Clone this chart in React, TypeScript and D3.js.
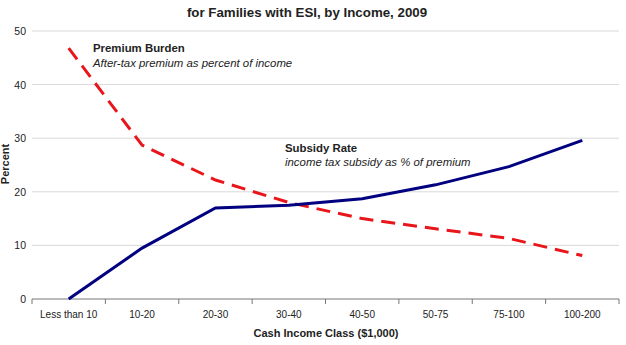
import * as d3 from "d3";

const categories = [
  "Less than 10",
  "10-20",
  "20-30",
  "30-40",
  "40-50",
  "50-75",
  "75-100",
  "100-200",
];
const subsidyRate = [0, 9.5, 17.0, 17.5, 18.7, 21.3, 24.7, 29.6];
const premiumBurden = [46.8, 28.7, 22.2, 18.0, 15.0, 13.1, 11.3, 8.1];
const yTicks = [0, 10, 20, 30, 40, 50];

const W = 626;
const H = 345;
const margin = { top: 31, right: 7, bottom: 46, left: 32 };

export default function App() {
  const x = d3
    .scaleBand()
    .domain(categories)
    .range([margin.left, W - margin.right]);
  const y = d3
    .scaleLinear()
    .domain([0, 50])
    .range([H - margin.bottom, margin.top]);

  const cx = (c: string) => (x(c) ?? 0) + x.bandwidth() / 2;

  const line = d3
    .line<number>()
    .x((_, i) => cx(categories[i]))
    .y((d) => y(d));

  const font = "'Liberation Sans', Arial, sans-serif";
  const text = "#222";
  const y0 = y(0);
  const tickEdges = [...categories.map((c) => x(c) ?? 0), W - margin.right];

  return (
    <svg
      width={W}
      height={H}
      style={{ position: "absolute", left: 0, top: 0, background: "#fff" }}
      fontFamily={font}
    >
      <text x={307} y={17} textAnchor="middle" fontSize={13.3} fontWeight="bold" fill={text}>
        for Families with ESI, by Income, 2009
      </text>

      {yTicks.map((t) => (
        <g key={t}>
          {t > 0 && (
            <line
              x1={margin.left}
              x2={W - margin.right}
              y1={y(t)}
              y2={y(t)}
              stroke="#d9d9d9"
              strokeWidth={1}
            />
          )}
          <text x={26} y={y(t) + 4} textAnchor="end" fontSize={10.5} fill={text}>
            {t}
          </text>
        </g>
      ))}

      <line x1={margin.left} x2={W - margin.right} y1={y0} y2={y0} stroke="#777" strokeWidth={1} />
      {tickEdges.map((tx, i) => (
        <line key={i} x1={tx} x2={tx} y1={y0} y2={y0 + 5} stroke="#777" strokeWidth={1} />
      ))}
      {categories.map((c) => (
        <text key={c} x={cx(c)} y={318} textAnchor="middle" fontSize={10} fill={text}>
          {c}
        </text>
      ))}

      <text x={326} y={337} textAnchor="middle" fontSize={11} fontWeight="bold" fill={text}>
        Cash Income Class ($1,000)
      </text>
      <text
        transform="translate(9,164) rotate(-90)"
        textAnchor="middle"
        fontSize={11}
        fontWeight="bold"
        fill={text}
      >
        Percent
      </text>

      <path
        d={line(premiumBurden) ?? ""}
        fill="none"
        stroke="#e8161b"
        strokeWidth={3}
        strokeDasharray="14 8"
      />
      <path d={line(subsidyRate) ?? ""} fill="none" stroke="#000080" strokeWidth={3} />

      <text x={93} y={52} fontSize={11.4} fontWeight="bold" fill={text}>
        Premium Burden
      </text>
      <text x={93} y={67} fontSize={11.4} fontStyle="italic" fill={text}>
        After-tax premium as percent of income
      </text>
      <text x={285} y={152} fontSize={11.4} fontWeight="bold" fill={text}>
        Subsidy Rate
      </text>
      <text x={285} y={166} fontSize={11.4} fontStyle="italic" fill={text}>
        income tax subsidy as % of premium
      </text>
    </svg>
  );
}
